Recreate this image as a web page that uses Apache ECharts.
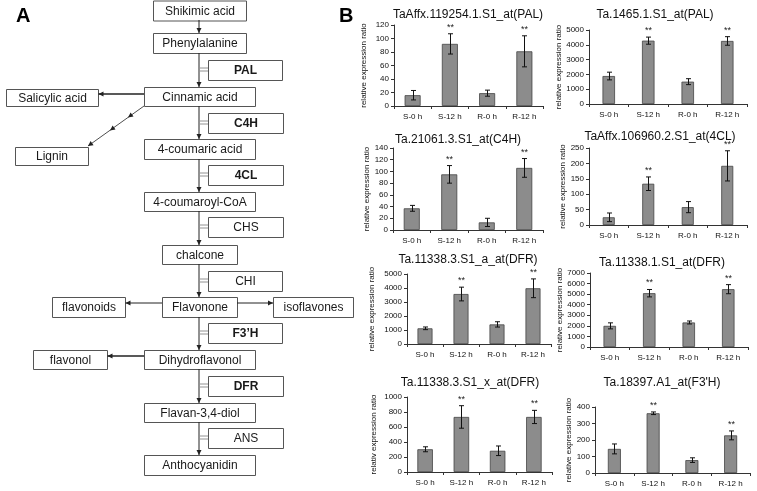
<!DOCTYPE html>
<html><head><meta charset="utf-8">
<script src="https://cdn.jsdelivr.net/npm/echarts@6/dist/echarts.min.js"></script>
<style>html,body{margin:0;padding:0;background:#fff}#c{width:757px;height:491px}</style>
</head><body><div id="c"></div>
<script>
// ---------------- DATA ----------------
const categories = ['S-0 h', 'S-12 h', 'R-0 h', 'R-12 h'];
const chartTitles = [
  'TaAffx.119254.1.S1_at(PAL)', 'Ta.1465.1.S1_at(PAL)',
  'Ta.21061.3.S1_at(C4H)', 'TaAffx.106960.2.S1_at(4CL)',
  'Ta.11338.3.S1_a_at(DFR)', 'Ta.11338.1.S1_at(DFR)',
  'Ta.11338.3.S1_x_at(DFR)', "Ta.18397.A1_at(F3'H)"
];
const axisNames = [
  'relative expression ratio', 'relative expression ratio',
  'relative expression ratio', 'relative expression ratio',
  'relative expression ratio', 'relative expression ratio',
  'relativ expression ratio', 'relative expression ratio'
];
const yMax  = [120, 5000, 140, 250, 5000, 7000, 1000, 400];
const yStep = [20, 1000, 20, 50, 1000, 1000, 200, 100];

const palA_mean = [16, 92, 19, 81];         const palA_err = [7, 15, 4.5, 23];
const palB_mean = [1890, 4280, 1510, 4260]; const palB_err = [260, 240, 200, 290];
const c4h_mean  = [37, 95, 13, 106];        const c4h_err  = [5, 15, 7, 16];
const cl4_mean  = [25, 134, 58, 192];       const cl4_err  = [14, 22, 18, 49];
const dfrA_mean = [1120, 3570, 1400, 3980]; const dfrA_err = [95, 490, 190, 670];
const dfrB_mean = [2000, 5090, 2320, 5470]; const dfrB_err = [285, 350, 140, 430];
const dfrC_mean = [303, 734, 283, 734];     const dfrC_err = [33, 150, 64, 88];
const f3h_mean  = [146, 362, 78, 228];      const f3h_err  = [30, 8, 14, 27];
const significant = [0, 1, 0, 1];

const means = [palA_mean, palB_mean, c4h_mean, cl4_mean, dfrA_mean, dfrB_mean, dfrC_mean, f3h_mean];
const errs  = [palA_err, palB_err, c4h_err, cl4_err, dfrA_err, dfrB_err, dfrC_err, f3h_err];

const pathwayLabels = ['Shikimic acid', 'Phenylalanine', 'PAL', 'Cinnamic acid', 'Salicylic acid',
  'C4H', '4-coumaric acid', 'Lignin', '4CL', '4-coumaroyl-CoA', 'CHS', 'chalcone', 'CHI',
  'flavonoids', 'Flavonone', 'isoflavones', 'F3\u2019H', 'flavonol', 'Dihydroflavonol', 'DFR',
  'Flavan-3,4-diol', 'ANS', 'Anthocyanidin'];

// ---------------- LAYOUT / STYLE ----------------
const FONT = '"Liberation Sans", Arial, sans-serif';
// [x, y, w, h, bold, enzyme]
const pathwayBoxes = [
  [153, 0.5, 93, 20, 0, 0], [153, 33, 93, 20, 0, 0], [208, 60, 74, 20, 1, 1],
  [144, 87, 111, 19, 0, 0], [6, 89, 92, 17, 0, 0], [208, 113, 75, 20, 1, 1],
  [144, 139, 111, 20, 0, 0], [15, 147, 73, 18, 0, 0], [208, 165, 75, 20, 1, 1],
  [144, 192, 111, 19, 0, 0], [208, 217, 75, 20, 0, 1], [162, 245, 75, 19, 0, 0],
  [208, 271, 74, 20, 0, 1], [52, 297, 73, 20, 0, 0], [162, 297, 75, 20, 0, 0],
  [273, 297, 80, 20, 0, 0], [208, 323, 74, 20, 1, 1], [33, 350, 74, 19, 0, 0],
  [144, 350, 111, 19, 0, 0], [208, 376, 75, 20, 1, 1], [144, 403, 111, 19, 0, 0],
  [208, 428, 75, 20, 0, 1], [144, 455, 111, 20, 0, 0]
];
const mainX = 199;
const mainSegments = [[20, 33], [53, 87], [106, 139], [159, 192], [211, 245], [264, 297], [317, 350], [369, 403], [422, 455]];
const grids = [[394, 25, 149, 81], [589, 30, 158, 74], [393, 148, 150, 82], [589, 148, 158, 77],
               [407, 274, 144, 70], [590, 273, 158, 74], [407, 397, 145, 75], [595, 407, 155, 66]];
const titlePos = [[468, 15], [655, 15], [458, 140], [660, 137], [468, 260], [662, 263], [470, 383], [662, 383]];
const nameGaps = [26, 17, 18, 18, 31, 17, 29, 20];
const barWidths = [16, 12.5, 16, 12, 15, 12.5, 15.5, 13];

const LINE = '#222';
function arrowHead(x1, y1, x2, y2) {
  const a = Math.atan2(y2 - y1, x2 - x1), L = 5, W = 2.5;
  const bx = x2 - L * Math.cos(a), by = y2 - L * Math.sin(a);
  return {type: 'polygon', shape: {points: [[x2, y2], [bx + W * Math.sin(a), by - W * Math.cos(a)], [bx - W * Math.sin(a), by + W * Math.cos(a)]]},
          style: {fill: LINE}, silent: true};
}
function arrow(x1, y1, x2, y2, lw) {
  return [{type: 'line', shape: {x1, y1, x2, y2}, style: {stroke: LINE, lineWidth: lw || 1}, silent: true}, arrowHead(x1, y1, x2, y2)];
}

const gfx = [];
gfx.push({type: 'text', x: 16, y: 6, style: {text: 'A', font: 'bold 20px ' + FONT, fill: '#000'}});
gfx.push({type: 'text', x: 339, y: 6, style: {text: 'B', font: 'bold 20px ' + FONT, fill: '#000'}});
pathwayBoxes.forEach((b, i) => {
  gfx.push({type: 'rect', shape: {x: b[0] + 0.5, y: b[1] + 0.5, width: b[2], height: b[3]},
            style: {fill: '#fff', stroke: '#555', lineWidth: 1}, silent: true});
  gfx.push({type: 'text', x: b[0] + b[2] / 2 + 0.5, y: b[1] + b[3] / 2 + 1,
            style: {text: pathwayLabels[i], align: 'center', verticalAlign: 'middle',
                    font: (b[4] ? 'bold ' : '') + '12px ' + FONT, fill: '#1a1a1a'}});
  if (b[5]) {
    const cy = b[1] + b[3] / 2;
    gfx.push({type: 'line', shape: {x1: mainX + 1, y1: cy - 2, x2: b[0], y2: cy - 2}, style: {stroke: '#777', lineWidth: 0.8}});
    gfx.push({type: 'line', shape: {x1: mainX + 1, y1: cy + 1, x2: b[0], y2: cy + 1}, style: {stroke: '#777', lineWidth: 0.8}});
  }
});
mainSegments.forEach(s => arrow(mainX, s[0], mainX, s[1]).forEach(e => gfx.push(e)));
arrow(144, 94, 98.5, 94, 1.3).forEach(e => gfx.push(e));
arrow(162, 303, 125.5, 303, 1).forEach(e => gfx.push(e));
arrow(237, 303, 273, 303, 1).forEach(e => gfx.push(e));
arrow(144, 356, 107.5, 356, 1.3).forEach(e => gfx.push(e));
// lignin diagonal with mid arrowheads
gfx.push({type: 'line', shape: {x1: 144, y1: 106, x2: 88, y2: 146}, style: {stroke: LINE, lineWidth: 0.8}});
gfx.push(arrowHead(144, 106, 128, 117.5));
gfx.push(arrowHead(144, 106, 110, 130.5));
gfx.push(arrowHead(144, 106, 88, 146));

// chart titles
chartTitles.forEach((t, k) => gfx.push({type: 'text', x: titlePos[k][0], y: titlePos[k][1],
  style: {text: t, align: 'center', verticalAlign: 'middle', font: '12px ' + FONT, fill: '#111'}}));

const option = {
  animation: false,
  backgroundColor: '#fff',
  grid: grids.map(g => ({left: g[0], top: g[1], width: g[2], height: g[3], containLabel: false})),
  xAxis: grids.map((g, k) => ({
    type: 'category', gridIndex: k, data: categories,
    axisLine: {lineStyle: {color: '#333', width: 1}},
    axisTick: {show: true, length: 3, lineStyle: {color: '#333'}},
    axisLabel: {fontSize: 8, margin: 7, color: '#111', interval: 0, fontFamily: FONT}
  })),
  yAxis: grids.map((g, k) => ({
    type: 'value', gridIndex: k, min: 0, max: yMax[k], interval: yStep[k],
    name: axisNames[k], nameLocation: 'middle', nameGap: nameGaps[k],
    nameTextStyle: {fontSize: 8, color: '#111', fontFamily: FONT},
    axisLine: {show: true, lineStyle: {color: '#333', width: 1}},
    axisTick: {show: true, length: 3, lineStyle: {color: '#333'}},
    axisLabel: {fontSize: 8, margin: 5, color: '#111', fontFamily: FONT, formatter: v => String(v)},
    splitLine: {show: false}
  })),
  series: []
};
means.forEach((m, k) => {
  option.series.push({
    type: 'bar', xAxisIndex: k, yAxisIndex: k, data: m, barWidth: barWidths[k],
    itemStyle: {color: '#8c8c8c', borderColor: '#444', borderWidth: 0.8}
  });
  option.series.push({
    type: 'custom', xAxisIndex: k, yAxisIndex: k,
    data: m.map((v, i) => [i, v, errs[k][i], significant[i]]),
    renderItem: (params, api) => {
      const i = api.value(0), v = api.value(1), e = api.value(2), s = api.value(3);
      const top = api.coord([i, v + e]), bot = api.coord([i, v - e]);
      const x = Math.round(top[0]) + 0.5, c = 2.5;
      const st = {stroke: '#111', lineWidth: 1};
      const ch = [
        {type: 'line', shape: {x1: x, y1: top[1], x2: x, y2: bot[1]}, style: st},
        {type: 'line', shape: {x1: x - c, y1: top[1], x2: x + c, y2: top[1]}, style: st},
        {type: 'line', shape: {x1: x - c, y1: bot[1], x2: x + c, y2: bot[1]}, style: st}
      ];
      if (s) ch.push({type: 'text', x: x, y: top[1] - 2,
        style: {text: '**', align: 'center', verticalAlign: 'bottom', font: '9px ' + FONT, fill: '#222'}});
      return {type: 'group', children: ch};
    },
    z: 5
  });
});
option.graphic = gfx;
const chart = echarts.init(document.getElementById('c'), null, {renderer: 'canvas'});
chart.setOption(option);
</script></body></html>
